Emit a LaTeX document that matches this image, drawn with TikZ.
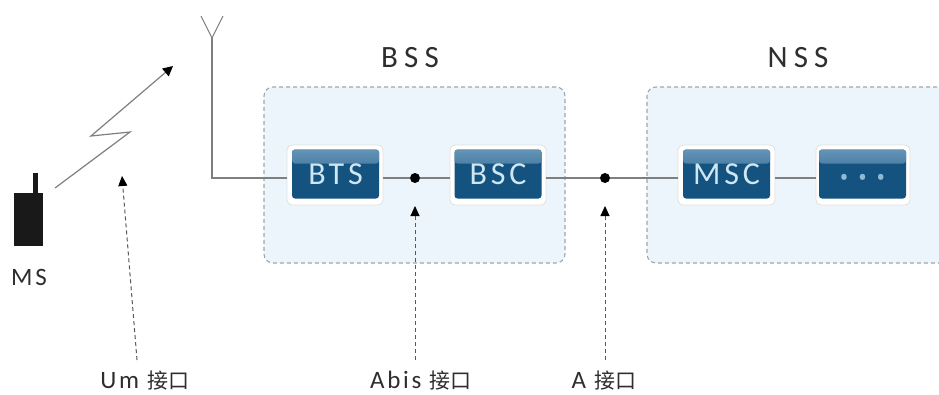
\documentclass[tikz,border=0pt]{standalone}
\usepackage{fontspec}
\setmainfont{Carlito}
\newfontfamily\cjk{Noto Sans CJK SC}
\newfontfamily\spaced[LetterSpace=12]{Carlito}
\newfontfamily\spacedbig[LetterSpace=20]{Carlito}
\newfontfamily\spacedtwo[LetterSpace=11]{Carlito}
\newfontfamily\spacedots[LetterSpace=36]{Open Sans}
\usetikzlibrary{arrows.meta}
\definecolor{regionfill}{HTML}{ECF5FC}
\definecolor{regiondash}{HTML}{9CA9AB}
\definecolor{boxblue}{HTML}{14527F}
\definecolor{boxtop}{HTML}{6494B6}
\definecolor{boxtext}{HTML}{CFE7F3}
\definecolor{dotcol}{HTML}{8DBBD3}
\definecolor{wire}{HTML}{7F7F7F}
\definecolor{txt}{HTML}{2E2E2E}
\definecolor{framecol}{HTML}{E3E0DC}
\tikzset{
  region/.style={draw=regiondash,fill=regionfill,dashed,dash pattern=on 4pt off 3pt,line width=1.1pt,rounded corners=9pt,minimum width=#1,minimum height=176pt,inner sep=0pt},
  frame/.style={draw=framecol,fill=white,line width=.8pt,rounded corners=5pt,minimum width=#1,minimum height=60pt,inner sep=0pt},
  blue/.style={fill=boxblue,rounded corners=3pt,minimum width=87pt,minimum height=49pt,inner sep=0pt,text=boxtext,font=\spaced\fontsize{32}{32}\selectfont,
    path picture={\shade[top color=boxtop,bottom color=boxblue] (path picture bounding box.north west) rectangle ([yshift=-14pt]path picture bounding box.north east);}},
  wireline/.style={draw=wire,line width=1.3pt},
  dotnode/.style={circle,fill=black,minimum size=10pt,inner sep=0pt},
  ifarrow/.style={draw=txt!80,dashed,dash pattern=on 4pt off 3pt,line width=1pt,-{Triangle[length=10pt,width=9pt,color=black]}},
  label/.style={text=txt,inner sep=0pt},
  bigl/.style={label,font=\spacedbig\fontsize{31}{31}\selectfont},
  ifl/.style={label,font=\spacedtwo\fontsize{25}{25}\selectfont}
}
\newcommand{\jiekou}{{\cjk\fontsize{21}{21}\selectfont 接口}}
\begin{document}
\begin{tikzpicture}[x=1pt,y=-1pt]
\clip (0,0) rectangle (939,394);
\fill[white] (0,0) rectangle (939,394);
% regions
\node[region=301pt] (bss) at (414.5,175) {};
\node[region=320pt] (nss) at (807,175) {};
\node[bigl] (bsst) at (410,58) {BSS};
\node[bigl] (nsst) at (798,58) {NSS};
% frames
\node[frame=96pt] (btsf) at (335,175) {};
\node[frame=96pt] (bscf) at (498,175) {};
\node[frame=97pt] (mscf) at (726.5,175) {};
\node[frame=94pt] (dotf) at (863,175) {};
\node[blue] (bts) at (335.5,174) {\raisebox{-2pt}{BTS}};
\node[blue] (bsc) at (498,174) {\raisebox{-2pt}{BSC}};
\node[blue] (msc) at (726.5,174) {\raisebox{-2pt}{MSC}};
\node[blue,text=dotcol,font=\spacedots\fontsize{25}{25}\selectfont] (etc) at (862.5,174) {\raisebox{-12pt}[0pt][0pt]{•••}};
% junctions
\node[dotnode] (d1) at (415,178) {};
\node[dotnode] (d2) at (605,178) {};
% antenna
\coordinate (corner) at (212,178);
\coordinate (antbase) at (212,38);
\coordinate (antl) at (201,16);
\coordinate (antr) at (223,16);
\draw[wireline] (btsf.west |- corner) -- (corner) -- (antbase);
\draw[wire,line width=1pt] (antl) -- (antbase) -- (antr);
% wires
\draw[wireline] (btsf.east |- d1) -- (d1);
\draw[wireline] (d1) -- (bscf.west |- d1);
\draw[wireline] (bscf.east |- d2) -- (d2);
\draw[wireline] (d2) -- (mscf.west |- d2);
\draw[wireline] (mscf.east |- d2) -- (dotf.west |- d2);
% MS
\fill[black!90] (14,193) rectangle (43,246);
\node[minimum width=5pt,minimum height=20pt,fill=black!90,inner sep=0pt] (msant) at (35.5,183) {};
\node[ifl] (ms) at (29,277) {MS};
% radio link
\coordinate (z0) at (55,188);
\coordinate (z1) at (130,132);
\coordinate (z2) at (91,136);
\coordinate (z3) at (173,66);
\draw[draw=wire,line width=1.2pt,-{Triangle[length=10pt,width=10pt,color=black]}] (z0) -- (z1) -- (z2) -- (z3);
% interface labels
\node[ifl] (um) at (145,381) {Um \jiekou};
\node[ifl] (abis) at (421,381) {Abis \jiekou};
\node[ifl] (a) at (604,381) {A \jiekou};
\coordinate (umtop) at (122,176);
\coordinate (umbot) at (137,360);
\coordinate (abtop) at (415,206);
\coordinate (abbot) at (415,360);
\coordinate (atop) at (605,206);
\coordinate (abot) at (605,360);
\draw[ifarrow] (umbot) -- (umtop);
\draw[ifarrow] (abbot) -- (abtop);
\draw[ifarrow] (abot) -- (atop);
\end{tikzpicture}
\end{document}
